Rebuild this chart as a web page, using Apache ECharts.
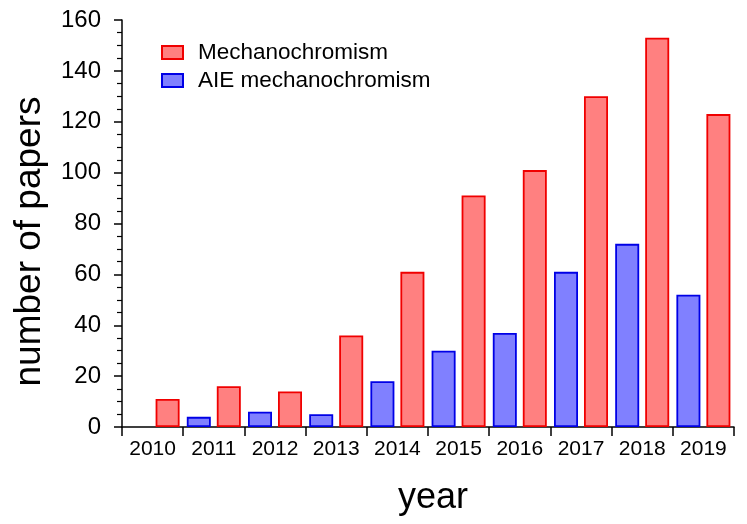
<!DOCTYPE html>
<html>
<head>
<meta charset="utf-8">
<script src="https://cdn.jsdelivr.net/npm/echarts@6/dist/echarts.min.js"></script>
<style>
  html, body { margin: 0; padding: 0; background: #fff; }
  #chart { width: 747px; height: 524px; }
</style>
</head>
<body>
<div id="chart"></div>
<script>
const years = ["2010", "2011", "2012", "2013", "2014", "2015", "2016", "2017", "2018", "2019"];
const mechanochromism = [11, 16, 14, 36, 61, 91, 101, 130, 153, 123];
const aieMechanochromism = [null, 4, 6, 5, 18, 30, 37, 61, 72, 52];
const yTicks = { min: 0, max: 160, interval: 20 };

const font = "Liberation Sans, Arial, sans-serif";
const chart = echarts.init(document.getElementById("chart"));

chart.setOption({
  animation: false,
  backgroundColor: "#fff",
  textStyle: { fontFamily: font },
  legend: {
    data: ["Mechanochromism", "AIE mechanochromism"],
    orient: "vertical",
    left: 156,
    top: 36,
    icon: "rect",
    itemWidth: 21,
    itemHeight: 13,
    itemGap: 5,
    textStyle: { color: "#000", fontSize: 22.5, lineHeight: 20, fontFamily: font, padding: [0, 0, 0, 10] },
  },
  grid: { left: 122, right: 13, top: 20, bottom: 97 },
  xAxis: {
    type: "category",
    data: years,
    name: "year",
    nameLocation: "middle",
    nameGap: 53,
    nameTextStyle: { color: "#000", fontSize: 36, fontFamily: font, verticalAlign: "top", padding: [0, 0, 0, 10] },
    axisLine: { lineStyle: { color: "#000", width: 1.5 } },
    axisTick: { show: true, interval: 0, length: 9, lineStyle: { color: "#000", width: 1.5 } },
    axisLabel: { color: "#000", fontSize: 21, margin: 12, interval: 0, fontFamily: font },
  },
  yAxis: {
    type: "value",
    min: yTicks.min,
    max: yTicks.max,
    interval: yTicks.interval,
    name: "number of papers",
    nameLocation: "middle",
    nameGap: 74,
    nameTextStyle: { color: "#000", fontSize: 37, fontFamily: font, padding: [0, 36, 0, 0] },
    axisLine: { show: true, lineStyle: { color: "#000", width: 1.5 } },
    axisTick: { show: true, length: 8, lineStyle: { color: "#000", width: 1.5 } },
    minorTick: { show: true, splitNumber: 4, length: 5, lineStyle: { color: "#000", width: 1.2 } },
    splitLine: { show: false },
    axisLabel: { color: "#000", fontSize: 24, margin: 21, fontFamily: font },
  },
  series: [
    {
      name: "AIE mechanochromism",
      type: "bar",
      data: aieMechanochromism,
      barWidth: 24,
      barGap: "25%",
      itemStyle: { color: "#8080ff", borderColor: "#0000e6", borderWidth: 1.8 },
    },
    {
      name: "Mechanochromism",
      type: "bar",
      data: mechanochromism,
      barWidth: 24,
      barGap: "25%",
      itemStyle: { color: "#ff8080", borderColor: "#f00000", borderWidth: 1.8 },
    },
  ],
});
</script>
</body>
</html>
